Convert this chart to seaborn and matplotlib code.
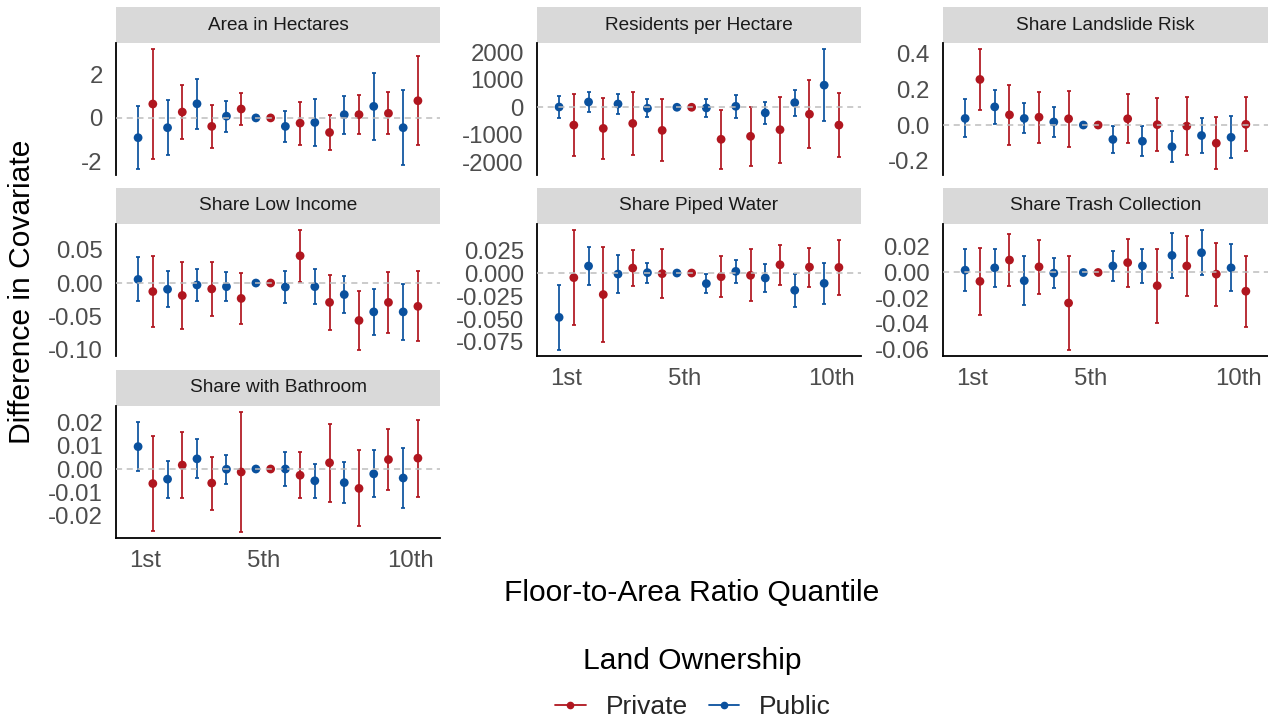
import numpy as np
import pandas as pd
import matplotlib
matplotlib.use("Agg")
import matplotlib.pyplot as plt
import seaborn as sns
from matplotlib.patches import Rectangle
from matplotlib.lines import Line2D

# ---------------------------------------------------------------------------
# Balance estimates by floor-to-area-ratio quantile (5th quantile = reference)
# estimate and 95% CI half-width, quantiles 1..10
# ---------------------------------------------------------------------------
quantiles = [1, 2, 3, 4, 5, 6, 7, 8, 9, 10]
quantile_ticks = [1, 5, 10]
quantile_labels = ["1st", "5th", "10th"]
ownership_order = ["Private", "Public"]

covariates = [
    "Area in Hectares",
    "Residents per Hectare",
    "Share Landslide Risk",
    "Share Low Income",
    "Share Piped Water",
    "Share Trash Collection",
    "Share with Bathroom",
]

area_public = [-0.91, -0.45, 0.65, 0.08, 0, -0.39, -0.21, 0.15, 0.53, -0.45]
area_public_ci = [1.44, 1.27, 1.15, 0.71, 0, 0.70, 1.06, 0.87, 1.54, 1.73]
area_private = [0.64, 0.27, -0.39, 0.41, 0, -0.24, -0.67, 0.15, 0.21, 0.79]
area_private_ci = [2.53, 1.24, 1.00, 0.73, 0, 0.99, 0.80, 0.91, 0.97, 2.04]

residents_public = [10, 191, 119, -36, 0, -24, 36, -203, 167, 800]
residents_public_ci = [388, 377, 377, 323, 0, 340, 424, 400, 472, 1309]
residents_private = [-645, -765, -585, -836, 0, -1159, -1051, -812, -251, -645]
residents_private_ci = [1129, 1094, 1129, 1123, 0, 1075, 1070, 1195, 1237, 1165]

landslide_public = [0.037, 0.102, 0.037, 0.017, 0, -0.081, -0.091, -0.122, -0.059, -0.069]
landslide_public_ci = [0.107, 0.095, 0.084, 0.084, 0, 0.078, 0.084, 0.087, 0.100, 0.119]
landslide_private = [0.256, 0.057, 0.044, 0.035, 0, 0.035, 0.002, -0.006, -0.102, 0.004]
landslide_private_ci = [0.171, 0.168, 0.143, 0.156, 0, 0.137, 0.148, 0.161, 0.145, 0.152]

income_public = [0.0054, -0.0093, -0.0029, -0.0054, 0, -0.0059, -0.0054, -0.0172, -0.0431, -0.0431]
income_public_ci = [0.0328, 0.0272, 0.0233, 0.0218, 0, 0.0240, 0.0263, 0.0280, 0.0339, 0.0417]
income_private = [-0.0127, -0.0186, -0.0088, -0.0230, 0, 0.0407, -0.0289, -0.0559, -0.0289, -0.0348]
income_private_ci = [0.0532, 0.0500, 0.0405, 0.0380, 0, 0.0385, 0.0412, 0.0441, 0.0454, 0.0522]

water_public = [-0.0482, 0.0076, -0.0011, 0.0004, 0, -0.0115, 0.0018, -0.0054, -0.0187, -0.0112]
water_public_ci = [0.0355, 0.0209, 0.0203, 0.0108, 0, 0.0103, 0.0128, 0.0148, 0.0178, 0.0223]
water_private = [-0.0050, -0.0234, 0.0054, -0.0007, 0, -0.0040, -0.0025, 0.0090, 0.0065, 0.0061]
water_private_ci = [0.0518, 0.0518, 0.0193, 0.0268, 0, 0.0220, 0.0284, 0.0218, 0.0212, 0.0295]

trash_public = [0.0018, 0.0036, -0.0064, -0.0005, 0, 0.0051, 0.0051, 0.0133, 0.0154, 0.0036]
trash_public_ci = [0.0165, 0.0150, 0.0192, 0.0114, 0, 0.0118, 0.0134, 0.0173, 0.0177, 0.0183]
trash_private = [-0.0069, 0.0097, 0.0044, -0.0238, 0, 0.0077, -0.0103, 0.0051, -0.0013, -0.0146]
trash_private_ci = [0.0260, 0.0205, 0.0212, 0.0366, 0, 0.0187, 0.0289, 0.0231, 0.0246, 0.0275]

bath_public = [0.0097, -0.0044, 0.0044, -0.0001, 0, 0.0000, -0.0051, -0.0059, -0.0021, -0.0039]
bath_public_ci = [0.0107, 0.0080, 0.0085, 0.0062, 0, 0.0074, 0.0073, 0.0090, 0.0102, 0.0130]
bath_private = [-0.0063, 0.0017, -0.0061, -0.0013, 0, -0.0027, 0.0027, -0.0084, 0.0041, 0.0047]
bath_private_ci = [0.0205, 0.0142, 0.0115, 0.0260, 0, 0.0100, 0.0168, 0.0165, 0.0131, 0.0167]

# y-axis breaks (value list, decimals) per covariate
y_breaks = {
    "Area in Hectares": ([-2, 0, 2], 0),
    "Residents per Hectare": ([-2000, -1000, 0, 1000, 2000], 0),
    "Share Landslide Risk": ([-0.2, 0, 0.2, 0.4], 1),
    "Share Low Income": ([-0.10, -0.05, 0, 0.05], 2),
    "Share Piped Water": ([-0.075, -0.05, -0.025, 0, 0.025], 3),
    "Share Trash Collection": ([-0.06, -0.04, -0.02, 0, 0.02], 2),
    "Share with Bathroom": ([-0.02, -0.01, 0, 0.01, 0.02], 2),
}

series = {
    "Area in Hectares": (area_private, area_private_ci, area_public, area_public_ci),
    "Residents per Hectare": (residents_private, residents_private_ci, residents_public, residents_public_ci),
    "Share Landslide Risk": (landslide_private, landslide_private_ci, landslide_public, landslide_public_ci),
    "Share Low Income": (income_private, income_private_ci, income_public, income_public_ci),
    "Share Piped Water": (water_private, water_private_ci, water_public, water_public_ci),
    "Share Trash Collection": (trash_private, trash_private_ci, trash_public, trash_public_ci),
    "Share with Bathroom": (bath_private, bath_private_ci, bath_public, bath_public_ci),
}

palette = {"Private": "#B0161F", "Public": "#0A519E"}
dodge = {"Private": 0.25, "Public": -0.25}

records = []
for cov in covariates:
    pri, pri_ci, pub, pub_ci = series[cov]
    for owner, est, ci in (("Private", pri, pri_ci), ("Public", pub, pub_ci)):
        for q, e, c in zip(quantiles, est, ci):
            records.append({"covariate": cov, "ownership": owner, "quantile": q,
                            "xpos": q + dodge[owner], "estimate": e, "ci": c})
df = pd.DataFrame(records)

# ---------------------------------------------------------------------------
sns.set_theme(style="white")
plt.rcParams["font.family"] = ["Liberation Sans", "DejaVu Sans"]

TICK_GREY = "#4D4D4D"


def draw_panel(data, **kwargs):
    ax = plt.gca()
    for owner in ["Public", "Private"]:
        sub = data[(data["ownership"] == owner) & (data["ci"] > 0)]
        ax.errorbar(sub["xpos"], sub["estimate"], yerr=sub["ci"], fmt="none",
                    ecolor=palette[owner], elinewidth=1.25, capsize=1.3,
                    capthick=1.25, zorder=2)
    sns.scatterplot(data=data, x="xpos", y="estimate", hue="ownership",
                    hue_order=ownership_order, palette=palette, s=40,
                    linewidth=0, legend=False, ax=ax, zorder=3)
    ax.axhline(0, color="#BDBDBD", lw=1.1, ls=(0, (4, 3)), zorder=4)
    lo = (data["estimate"] - data["ci"]).min()
    hi = (data["estimate"] + data["ci"]).max()
    pad = (hi - lo) * 0.05
    ax.set_ylim(lo - pad, hi + pad)


g = sns.FacetGrid(df, col="covariate", col_wrap=3, col_order=covariates,
                  sharey=False, sharex=True, height=2.4, aspect=1.6)
g.map_dataframe(draw_panel)
g.set_titles("")
g.set_axis_labels("", "")
g.set(xlim=(0, 11), xticks=quantile_ticks)

fig = g.figure
fig.set_size_inches(12.68, 7.23)
W, H = 1268, 723

col_left = [116, 537, 943]
col_width = [324, 324, 325]
row_top = [43, 224, 406]
panel_h = 132
strip_h = 36
bottom_panels = {"Share Piped Water", "Share Trash Collection", "Share with Bathroom"}

for i, (ax, cov) in enumerate(zip(g.axes.flat, covariates)):
    r, c = divmod(i, 3)
    ax.set_position([col_left[c] / W, 1 - (row_top[r] + panel_h) / H,
                     col_width[c] / W, panel_h / H])
    ticks, dec = y_breaks[cov]
    ax.set_yticks(ticks)
    ax.set_yticklabels([f"{t:.{dec}f}" for t in ticks])
    ax.set_xticks(quantile_ticks)
    ax.set_xticklabels(quantile_labels)
    ax.tick_params(axis="y", length=0, pad=9.5, labelsize=17.3, labelcolor=TICK_GREY)
    ax.tick_params(axis="x", length=0, pad=8.5, labelsize=17.3, labelcolor=TICK_GREY)
    ax.grid(False)
    ax.set_facecolor("white")
    for side in ("top", "right"):
        ax.spines[side].set_visible(False)
    ax.spines["left"].set_visible(True)
    ax.spines["left"].set_color("black")
    ax.spines["left"].set_linewidth(1.3)
    if cov in bottom_panels:
        ax.spines["bottom"].set_visible(True)
        ax.spines["bottom"].set_color("black")
        ax.spines["bottom"].set_linewidth(1.3)
        ax.tick_params(axis="x", labelbottom=True)
    else:
        ax.spines["bottom"].set_visible(False)
        ax.tick_params(axis="x", labelbottom=False)
    # facet strip
    frac = strip_h / panel_h
    ax.add_patch(Rectangle((0, 1), 1, frac, transform=ax.transAxes,
                           facecolor="#D9D9D9", edgecolor="none", clip_on=False))
    ax.text(0.5, 1 + frac / 2, cov, transform=ax.transAxes, ha="center",
            va="center", fontsize=13.7, color="#1A1A1A")

fig.text(22 / W, 1 - 292 / H, "Difference in Covariate", rotation=90,
         ha="center", va="center", fontsize=21.6, color="black")
fig.text(692 / W, 1 - 593 / H, "Floor-to-Area Ratio Quantile",
         ha="center", va="center", fontsize=21.6, color="black")
fig.text(692 / W, 1 - 661 / H, "Land Ownership",
         ha="center", va="center", fontsize=21.6, color="black")

handles = [Line2D([0], [0], color=palette[o], marker="o", markersize=4.5, lw=1.3)
           for o in ownership_order]
fig.legend(handles, ownership_order, loc="center", ncol=2, frameon=False,
           bbox_to_anchor=(693 / W, 1 - 707 / H), fontsize=19,
           handlelength=1.15, handletextpad=0.75, columnspacing=0.8)

fig.savefig("out.png", dpi=100, facecolor="white")
